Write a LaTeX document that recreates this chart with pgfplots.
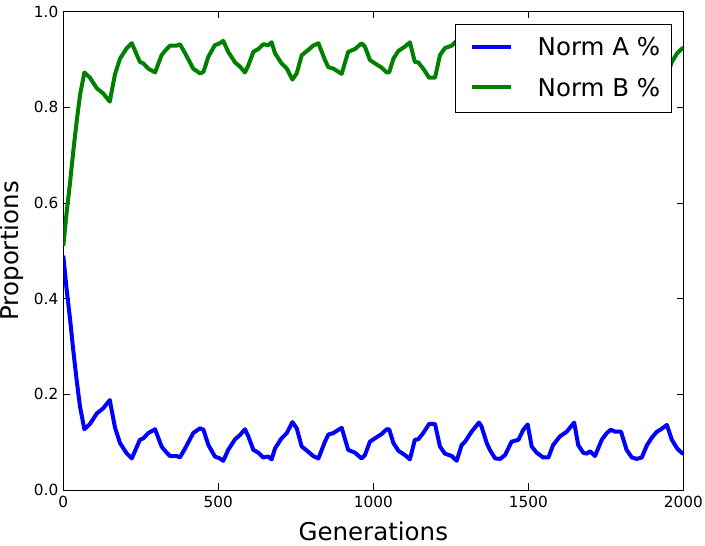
\documentclass[border=0pt]{standalone}
\usepackage{fontspec}
\setmainfont{DejaVu Sans}
\usepackage{pgfplots}
\usepackage{pgfplotstable}
\pgfplotsset{compat=1.18}
\definecolor{mplblue}{RGB}{0,0,255}
\definecolor{mplgreen}{RGB}{0,128,0}
\pgfplotstableread{
x y
0 0.490
11 0.418
22 0.356
32 0.293
43 0.230
54 0.174
68 0.127
86 0.138
108 0.160
129 0.171
150 0.188
156 0.167
167 0.130
183 0.098
204 0.077
221 0.066
247 0.105
258 0.108
274 0.119
296 0.127
317 0.091
328 0.082
344 0.071
366 0.071
376 0.068
393 0.087
419 0.119
441 0.129
452 0.126
468 0.094
489 0.070
505 0.066
516 0.061
532 0.084
554 0.106
570 0.115
586 0.127
597 0.112
613 0.084
629 0.078
645 0.068
661 0.070
672 0.064
683 0.087
704 0.108
721 0.119
739 0.142
753 0.129
769 0.091
790 0.080
806 0.071
823 0.066
844 0.101
855 0.116
871 0.119
898 0.130
919 0.084
941 0.078
962 0.066
973 0.073
989 0.101
1005 0.108
1027 0.117
1043 0.127
1051 0.127
1065 0.098
1081 0.082
1102 0.073
1118 0.064
1134 0.105
1145 0.106
1161 0.119
1180 0.138
1199 0.138
1215 0.091
1231 0.076
1253 0.071
1269 0.061
1285 0.094
1296 0.101
1317 0.122
1341 0.141
1349 0.133
1366 0.098
1376 0.084
1393 0.066
1409 0.065
1425 0.073
1446 0.101
1468 0.105
1484 0.126
1498 0.137
1511 0.091
1527 0.078
1548 0.068
1565 0.068
1580 0.094
1602 0.112
1624 0.122
1648 0.141
1661 0.094
1677 0.078
1688 0.076
1699 0.081
1715 0.071
1737 0.105
1753 0.119
1766 0.126
1780 0.122
1799 0.122
1817 0.084
1834 0.068
1850 0.065
1866 0.068
1883 0.094
1899 0.110
1915 0.122
1926 0.126
1947 0.136
1963 0.105
1980 0.087
1996 0.077
2000 0.076
}\normA
\pgfplotstableread{
x y
0 0.510
11 0.582
22 0.644
32 0.707
43 0.770
54 0.826
68 0.873
86 0.862
108 0.840
129 0.829
150 0.812
156 0.833
167 0.870
183 0.902
204 0.923
221 0.934
247 0.895
258 0.892
274 0.881
296 0.873
317 0.909
328 0.918
344 0.929
366 0.929
376 0.932
393 0.913
419 0.881
441 0.871
452 0.874
468 0.906
489 0.930
505 0.934
516 0.939
532 0.916
554 0.894
570 0.885
586 0.873
597 0.888
613 0.916
629 0.922
645 0.932
661 0.930
672 0.936
683 0.913
704 0.892
721 0.881
739 0.858
753 0.871
769 0.909
790 0.920
806 0.929
823 0.934
844 0.899
855 0.884
871 0.881
898 0.870
919 0.916
941 0.922
962 0.934
973 0.927
989 0.899
1005 0.892
1027 0.883
1043 0.873
1051 0.873
1065 0.902
1081 0.918
1102 0.927
1118 0.936
1134 0.895
1145 0.894
1161 0.881
1180 0.862
1199 0.862
1215 0.909
1231 0.924
1253 0.929
1269 0.939
1285 0.906
1296 0.899
1317 0.878
1341 0.859
1349 0.867
1366 0.902
1376 0.916
1393 0.934
1409 0.935
1425 0.927
1446 0.899
1468 0.895
1484 0.874
1498 0.863
1511 0.909
1527 0.922
1548 0.932
1565 0.932
1580 0.906
1602 0.888
1624 0.878
1648 0.859
1661 0.906
1677 0.922
1688 0.924
1699 0.919
1715 0.929
1737 0.895
1753 0.881
1766 0.874
1780 0.878
1799 0.878
1817 0.916
1834 0.932
1850 0.935
1866 0.932
1883 0.906
1899 0.890
1915 0.878
1926 0.874
1947 0.864
1963 0.895
1980 0.913
1996 0.923
2000 0.924
}\normB
\begin{document}
\begin{tikzpicture}
\begin{axis}[
  name=ax,
  scale only axis,
  width=620pt, height=478.3pt,
  xmin=0, xmax=2000, ymin=0, ymax=1,
  xtick={0,500,1000,1500,2000},
  ytick={0,0.2,0.4,0.6,0.8,1.0},
  scaled ticks=false,
  tick align=inside,
  major tick length=6.7pt,
  minor tick num=0,
  every tick/.style={black, line width=1pt},
  axis line style={line width=1pt},
  /pgf/number format/assume math mode=true,
  /pgf/number format/1000 sep={},
  tick label style={font=\fontsize{15.3}{18}\selectfont},
  xticklabel style={yshift=-3pt},
  yticklabel style={xshift=-1.5pt, /pgf/number format/fixed, /pgf/number format/fixed zerofill, /pgf/number format/precision=1},
  xlabel={Generations},
  ylabel={Proportions},
  label style={font=\fontsize{24.5}{29}\selectfont},
  xlabel style={at={(axis description cs:0.5,-0.0857)}, anchor=center},
  ylabel style={at={(axis description cs:-0.0827,0.5)}, anchor=center},
  legend style={at={(1,1)}, anchor=north east, xshift=-11.8pt, yshift=-12.6pt,
    draw=black, line width=1pt, fill=white,
    inner xsep=10.8pt, inner ysep=10.9pt, row sep=15.5pt, column sep=0pt,
    font=\fontsize{24.5}{29}\selectfont,
    nodes={inner sep=0pt, text height=18pt, text depth=3.2pt},
    cells={anchor=west}},
  legend image code/.code={
    \path (0pt,-10.6pt) (67.2pt,10.6pt);
    \draw[#1, line width=4pt] (3.6pt,1.6pt) -- (42.6pt,1.6pt);
  },
]
\addplot[mplblue, line width=4pt, line join=round] table[x=x, y=y] {\normA};
\addlegendentry{Norm A \%}
\addplot[mplgreen, line width=4pt, line join=round] table[x=x, y=y] {\normB};
\addlegendentry{Norm B \%}
\end{axis}
\pgfresetboundingbox
\path ([shift={(-63.3pt,-55pt)}]ax.south west) rectangle ([shift={(21.7pt,11.7pt)}]ax.north east);
\end{tikzpicture}
\end{document}
